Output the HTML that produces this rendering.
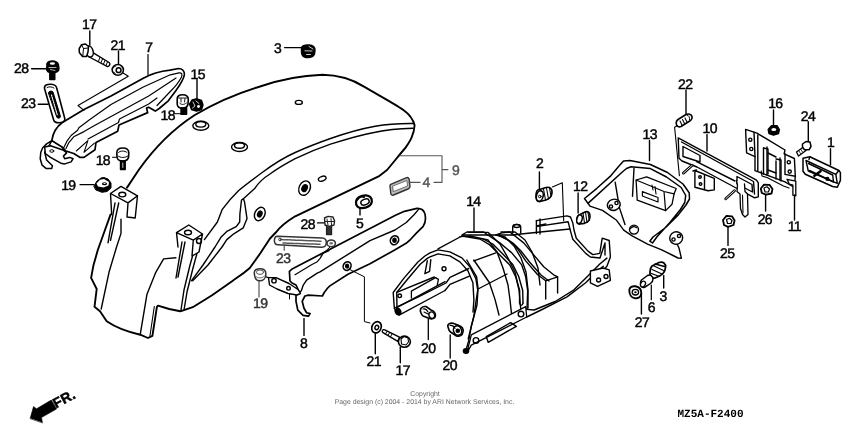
<!DOCTYPE html>
<html><head><meta charset="utf-8">
<style>
html,body{margin:0;padding:0;background:#fff;width:850px;height:426px;overflow:hidden}
svg{display:block;will-change:transform}
.l{font-family:"Liberation Sans",sans-serif;font-size:14px;font-weight:normal;fill:#000;stroke:#000;stroke-width:0.45px;letter-spacing:-0.6px}
.g{stroke:#333}
text{text-rendering:geometricPrecision}
.g{fill:#333}
.g2{fill:#555;stroke:#555}
</style></head><body>
<svg width="850" height="426" viewBox="0 0 850 426">
<g fill="none" stroke="#000" stroke-width="1.4" stroke-linejoin="round" stroke-linecap="round">
<!-- FENDER 9 -->
<!-- top outline -->
<path d="M127,187.6 L138.7,170 C150,154 170,131 194.8,115 C215,103 240,92.5 260,86.5 C280,79.5 300,75.5 322.4,74.7 C340,75 352,79 363.5,86.4 C380,96 395,104 403.4,110 C409,114 413,119 414.6,125.2 C414,135 410,141 405.7,147.5 C400,154 393,163 387,170 L378.6,176.4 L295.2,216.3 C286,222 280,227 276.3,232 L270,238.5 L260.3,253.3 L249.8,268 C243,274 238,277 232.8,280.7 L211.7,295.5 L192.7,307.2 L180.3,311.3 L169.2,309 L158,305.7 L156.9,306.8 L152.4,335.8 L148,338 L140.2,334.7 C128,332 115,327 106.7,321.3 L100,311.3 L94.5,306.8 L96.7,289 L91.1,277.9 L93.4,265.6 L97.8,250 L104.6,231 L110.5,214.6" stroke-width="1.9"/>
<!-- fold lines -->
<path d="M414,123.5 C400,123.3 385,124.5 375.2,126.3 C360,129 345,133.5 330.5,138.5 C315,144 305,148 295.2,152.5 C285,157 275,163 262.2,172.5 C252,180 244,186 238.7,190.5 C232,197 227,203 222.3,209.3 L217.4,222 L204.4,239.6"/>
<path d="M412.8,128.2 C400,128.5 385,130 375.2,132.2 C360,135 345,139.5 330.5,144.2 C315,149.5 305,154 295.2,158.6 C285,164 276,169.5 270,174 C262,179 257,185 255,188.2 L243.4,198.8"/>
<!-- S bend -->
<path d="M243.4,198.8 L241.5,200 L239.9,214 L239.7,222 L236.2,226.7 L226.8,231.4 L220.9,237.3 L215,247 L203,265 L191.6,280.7"/>
<path d="M243.4,198.8 L244.6,202.3 L247,218.7 L245.6,222 L243.2,227.9 L233.8,233.8 L226.8,239.6 L222,247 L208,265 L192.7,280.7"/>
<!-- inner vertical front edge -->
<path d="M196,244 L190,265 L184,290 L181,310"/>
<path d="M199,246 L193,268 L187,292 L184,310"/>
<path d="M175.9,257.8 L163.6,258.9 L155.8,272.3 L146.9,294.6 L140.2,334.7"/>
<path d="M121,219.3 L121,233.4 L116.4,247.5 L109,272.3 L101.2,309"/>
<!-- tab 1 -->
<path d="M110.5,193.5 L121,186.4 L137.5,195.8 L128,202.9 Z M110.5,193.5 L111.7,214.6 M128,202.9 L127,217 L135.2,218 L137.5,195.8" fill="#fff"/>
<ellipse cx="122.3" cy="194.6" rx="3.5" ry="2.3"/>
<path d="M115,203 L108,242.8 M118.7,203 L110.5,240.4"/>
<!-- tab 2 -->
<path d="M176.5,232.6 L188.8,225 L202.5,234 L193.3,240.2 Z M176.5,232.6 L178,247 M193.3,240.2 L192,256 L199,252 L202.5,234" fill="#fff"/>
<ellipse cx="188" cy="232.5" rx="3.5" ry="2.3"/>
<circle cx="199" cy="241" r="2.5"/>
<path d="M182,242 L176,278 M185,242 L178,277"/>
<!-- holes -->
<ellipse cx="200.8" cy="125.8" rx="8" ry="4.5"/>
<ellipse cx="200.8" cy="124.3" rx="5" ry="2.8"/>
<ellipse cx="239.5" cy="147" rx="8" ry="4.5"/>
<ellipse cx="239.5" cy="145.5" rx="5" ry="2.8"/>
<ellipse cx="298.8" cy="102.4" rx="3.5" ry="2"/>
<ellipse cx="304.6" cy="188.1" rx="5.5" ry="7.5" transform="rotate(25 304.6 188.1)"/>
<ellipse cx="304.6" cy="188.1" rx="2.5" ry="3.5" transform="rotate(25 304.6 188.1)" fill="#000"/>
<ellipse cx="322.2" cy="178.7" rx="4" ry="2.3" transform="rotate(-20 322.2 178.7)"/>
<ellipse cx="259.8" cy="214" rx="5" ry="7" transform="rotate(25 259.8 214)"/>
<ellipse cx="259.8" cy="214" rx="2" ry="3" transform="rotate(25 259.8 214)" fill="#000"/>

<!-- ITEM 7 -->
<path d="M51.8,140.6 C53,133 56,127 62.4,122.5 L84,109.4 L111,95.9 L143.3,78.3 C150,74.5 158,71.5 170,70.2 L178.6,68.5 C182,68.5 184.8,71 184.4,74.9 C183.5,79 180,85 176,90.4 L168.3,100.8 L159.2,108.5 L155.3,111.1 L148.6,107.2 L146.5,108 L147.7,112.6 L119,125 L117.7,131.2 L96,142.5 L95,149.7 L84,157.4 L80.2,157.4 L73.7,153.5 L66,151 L62.1,147.1 Z" fill="#fff" stroke-width="1.7"/>
<path d="M62.1,151 L64.7,145.8 L67.3,140.6 L71.1,135.5 L77.6,130.3 L78.9,127.7 L89.2,120 L111,104.5 L143.3,87 L170.3,74.8 L179,72.8 C182,72.6 182.5,74 181.5,77 C179,82 175,87 170.3,91.5 L157,105.5" stroke-width="1.2"/>
<path d="M66,148.4 L68.5,143.2 L73.7,136.8 L84,131.6 L95,125.2 L148.7,96 L176,78" stroke-width="1.2"/>
<path d="M88,139 L118.5,122.5 L119.5,119 L148.7,104 L157,98" stroke-width="1.2"/>
<path d="M76.3,151 L87.9,140.6 L84,152.3 L94.4,143.2" stroke-width="1.1"/>
<!-- hook at left end -->
<path d="M51.8,140.6 L46.6,143.9 L42.7,147.7 L40.8,152.3 L40.2,158.7 L42.1,165.2 L46,168.4 L51.8,168.4 L52.4,165.8 L46.6,160 L44.7,152.3 L47.3,149 Z" fill="#fff" stroke-width="1.5"/>
<path d="M44.7,147.1 L50.5,145.8 L62.1,149.7 L64.7,151 L66.6,152.9 L63.4,156.1 L64.7,158.7 L69.8,157.4 L73.1,158.7 L71.1,161.9 L64.7,163.9 L60.8,163.2 L50.5,157.4 L45.3,153.5 Z" fill="#fff" stroke-width="1.5"/>
<path d="M51.8,140.6 L62.1,147.1 L64.7,151" stroke-width="1.2"/>
<ellipse cx="51.8" cy="151" rx="2" ry="1.3" stroke-width="1"/>
<!-- bracket line from washer 21 -->
<path d="M121.9,72.3 L128.3,76.3 L78,105.5 L84,110.4" stroke-width="1.1"/>
<!-- BOLT 17 top -->
<path d="M92.9,52.7 L109.1,62.5 C110.5,63.5 110,66 107.5,66.6 L88.3,56.5" fill="#fff"/>
<path d="M100,57.5 L98.5,61 M102.5,59 L101,62.5 M105,60.5 L103.5,64 M107.5,62 L106,65.5" stroke-width="1"/>
<ellipse cx="89.5" cy="51.5" rx="3.6" ry="5.6" transform="rotate(-15 89.5 51.5)" fill="#fff" stroke-width="1.5"/>
<path d="M79.2,48.5 L81.5,44.8 L85.5,44 L88.5,46.5 L88,52 L86.5,56.5 L82.5,56.5 L79.3,52.5 Z" fill="#fff" stroke-width="1.5"/>
<path d="M81.5,44.8 L83.5,48.5 L88.3,48 M83.5,48.5 L82.8,56.3" stroke-width="1"/>
<line x1="89.8" y1="31" x2="89.8" y2="45"/>
<!-- WASHER 21 top -->
<ellipse cx="117.8" cy="69.9" rx="5.6" ry="5.4" fill="#fff" stroke-width="1.6"/>
<ellipse cx="118.6" cy="70.2" rx="2.4" ry="2.4" fill="#fff" stroke-width="1.5"/>
<path d="M114,67 L116,66 M114,72 L115.5,74" stroke-width="0.8"/>
<line x1="118.5" y1="51" x2="118.5" y2="64"/>
<!-- BOLT 28 top -->
<path d="M47,66 C46,63 48,61 52,61 C56,61 58,62.5 58.5,65 L59,68.5 C59,71 56.5,73 52.5,73 C48.5,73 46,71 46.5,68.5 Z" fill="#000" stroke="#000"/>
<ellipse cx="52.4" cy="63.5" rx="2.6" ry="1.3" fill="#fff" stroke="none"/>
<path d="M49,67.5 L56,67.5 M50.5,69.5 L55,70.5" stroke="#fff" stroke-width="0.7"/>
<path d="M49.8,72.5 L49.8,79.5 L54.8,79.5 L54.8,72.5 Z" fill="#000"/>
<line x1="31.6" y1="68.7" x2="45.5" y2="68.7"/>
<!-- PART 23 left -->
<path d="M44.5,88.5 C44,85 47.5,84 51,84.3 C54.5,84.6 56.5,85.8 56.8,88.5 L64.8,118.5 C65.5,121.5 62,122.8 59,122.8 C56,122.8 54,121.8 53.5,119.5 Z" fill="#fff" stroke-width="1.6"/>
<path d="M48.5,92.5 C49,91 52,90.5 53,92 L60.5,116.5 C60.5,118 58,119 57,117.5 Z" fill="#000" stroke-width="1"/>
<path d="M51.5,95 L57.5,115.5" stroke="#fff" stroke-width="1.1" stroke-dasharray="1.3 1.1"/>
<path d="M47,87.5 C48,86.5 52,86.5 54,88" stroke-width="1"/>
<line x1="38.2" y1="104.3" x2="48" y2="104.3"/>
<!-- BOLT 18 upper -->
<path d="M177.2,99 C177,96 179.5,94.8 182.5,94.8 C186,94.8 188.3,96.5 188.3,99.5 L188,104 C187.5,107 185.5,108.2 182.5,108.2 C179.5,108.2 177.3,106.5 177.2,104 Z" fill="#fff" stroke-width="1.6"/>
<path d="M178.5,98 L187,98 M179.5,103 C181,105 184,105 186.5,103 M181,98.5 L181,102 M185,98.5 L184.5,102" stroke-width="0.9"/>
<path d="M181,108 L181,114.3 L186.6,114.3 L186.6,108 Z" fill="#000"/>
<line x1="174.5" y1="113.7" x2="181" y2="113.7" stroke-width="1"/>
<!-- NUT 15 -->
<path d="M189.5,104 L192,100 L197,98.8 L201.5,100.5 L203,105 L201.5,109.5 L196.5,111.2 L191.5,109.5 Z" fill="#000"/>
<path d="M193,102 L195,106 L192.5,108 M196,101 L199,103.5" stroke="#fff" stroke-width="0.8"/>
<circle cx="198.5" cy="106.5" r="1.4" fill="#fff" stroke="none"/>
<line x1="197" y1="79.6" x2="197" y2="98.5"/>
<!-- BOLT 18 lower -->
<path d="M116.8,153 C116.8,149.5 119.5,148 122.8,148 C126.3,148 128.8,149.8 128.8,153 L128.6,157 C128.1,159.8 125.8,161 122.8,161 C119.8,161 117.3,159.8 117,157 Z" fill="#fff" stroke-width="1.6"/>
<path d="M118.5,152.5 C120,150.5 125,150.5 127,152.5 M118,156 C120.5,158 125,158 127.8,156" stroke-width="1"/>
<path d="M120.5,161 L120.5,169.6 L125.2,169.6 L125.2,161 Z" fill="#000"/>
<path d="M122.8,163 L122.8,167.5" stroke="#fff" stroke-width="0.8"/>
<line x1="112.5" y1="157.3" x2="116.5" y2="157.3" stroke-width="1"/>
<!-- GROMMET 19 left -->
<path d="M94,186 L97,181 L101,178 L104,177.5 L108,179 L111,183 L111,188 L107,191.5 L102,192.3 L96,190 Z" fill="#000" stroke-width="1"/>
<path d="M96.5,183.5 L100,179.8 L104,179 L109,182 L108.5,185.5 L103.5,187.5 L98,186.5 Z" fill="#fff" stroke="none"/>
<ellipse cx="104.5" cy="183.7" rx="2.6" ry="1.5" fill="#000" stroke="none"/>
<ellipse cx="104.5" cy="183.5" rx="1.2" ry="0.6" fill="#fff" stroke="none"/>
<line x1="80" y1="184.7" x2="94" y2="184.7" stroke-width="1.2"/>
<!-- GROMMET 3 top -->
<path d="M301.5,49 C301,45.5 305,44.8 309,45 C313,45.3 315.3,47 315,50.5 L314.5,54 C313.5,57 310,57.8 306,57.5 C302.5,57 301.5,55 301.5,52 Z" fill="#000"/>
<path d="M305,50.8 L312,51 M306.5,54.5 L310.5,54.5 M309,46.5 L313,49" stroke="#fff" stroke-width="0.8"/>
<line x1="284.6" y1="47.6" x2="301" y2="47.6"/>
<!-- leader 7 -->
<line x1="148" y1="54.5" x2="148" y2="75" stroke-width="1.2"/>
<!-- 9 bracket (gray) -->
<path d="M400,155.7 L442,155.7 L442,182.4 L434,182.4 M442,169.6 L448,169.6" stroke="#555" stroke-width="1.1"/>
<!-- PART 4 -->
<path d="M390.7,184.3 L406,177.8 C408,177 409,178 409.3,180 L410,186.5 C410,188 409,188.5 408,189 L393.5,195 C392,195.5 391,195 390.8,193.5 L390,186 C390,185 390.2,184.5 390.7,184.3 Z" fill="#bbb" stroke="#333"/>
<path d="M393,186 L407,180.5 L407.5,186 L393.5,191.5 Z" fill="#fff" stroke="#555" stroke-width="0.8"/>
<line x1="409" y1="182.4" x2="420" y2="182.4" stroke="#555" stroke-width="1.1"/>
<!-- PART 5 grommet -->
<path d="M356,202 C356.5,197.5 361,195.2 366,195.3 C370,195.5 372,198 371.8,201.5 C371.5,205.5 367,208 362,208.2 C358,208.2 355.7,206 356,202 Z" fill="#fff" stroke-width="2.2"/>
<ellipse cx="365" cy="202" rx="4.3" ry="2.8" transform="rotate(-20 365 202)" fill="#fff" stroke-width="1.5"/>
<path d="M357,200 C359,197 362,196 364,197" stroke-width="2"/>
<line x1="360" y1="208.5" x2="360" y2="215"/>
<!-- ITEM 8 rail -->
<path d="M425,214.1 C424,210 421,208.2 417,208.3 L404.4,211.3 L395,215.5 L370,228.5 L292.6,268.7 L289.4,271.4 L290,281 L292,283 L296,285 L299.6,292.5 L296,295.1 L296,301.3 L297.8,310.1 L303.1,315.3 L308.4,316.2 L310.1,313.6 L306.6,312.7 L304,308.3 L302.2,301.3 L304.9,296 L308.4,295.1 L322.4,296 L324.2,292.5 L327.7,288 L329.9,285.9 L348,274.3 L370,263.7 L393.4,250.7 L406.1,243.3 L410,240 L416.6,232.9 L423.2,226.3 C425.5,223 425.8,218 425,214.1 Z" fill="#fff" stroke-width="1.7"/>
<path d="M329,250.6 L323.2,253.2 L320.3,258.2 L317.3,261.7 L311.5,264.7 L295,274.7" stroke-width="1.2"/>
<path d="M330.5,246.5 L320.5,256" stroke-width="1"/>
<path d="M419,208.9 L413.8,215 L406.3,222.5 L395,230 L370,240.6 L320,271.9 L317.2,273.1 L306.6,280.2 L303.1,285.4 L301.3,290.7 L299.6,292.5"/>
<path d="M268.5,277.6 L276,277.6 L289,283.5 L298,289.5 L300.5,293.5 L297,295 L288,293.5 L277,289 L269.5,285 Z" fill="#fff"/>
<circle cx="274" cy="280.7" r="2.2"/>
<circle cx="288.5" cy="288.3" r="1.8"/>
<path d="M260,275 L268.5,277.6" stroke-width="1.1"/>
<path d="M289.5,294 L289.5,299" stroke-width="1"/>
<ellipse cx="394.5" cy="240.2" rx="4" ry="4.6" transform="rotate(30 394.5 240.2)" fill="#fff" stroke-width="1.6"/>
<ellipse cx="394.5" cy="240.2" rx="1.6" ry="2" fill="#000"/>
<ellipse cx="347.1" cy="266.1" rx="3.8" ry="4.4" transform="rotate(30 347.1 266.1)" fill="#fff" stroke-width="1.6"/>
<ellipse cx="347.1" cy="266.1" rx="1.5" ry="1.9" fill="#000"/>
<path d="M349.6,269.4 L364.4,276.8 L364.4,321.6 L370,323" stroke-width="1"/>
<line x1="304" y1="318.6" x2="304" y2="335.4"/>
<!-- BOLT 28 mid -->
<path d="M324.5,218 L328,216.4 L333,217 L334.6,221 L334,225 L329,226.5 L325,225 Z" fill="#fff" stroke="#222"/>
<path d="M325,221.5 L334,221.5 M327,219 L328,225 M331,218.5 L331.5,225" stroke="#222" stroke-width="1"/>
<path d="M326.6,226.4 L326.6,234.5 L331.5,234.5 L331.5,226.4" fill="#333" stroke="#222"/>
<line x1="317.6" y1="222.9" x2="324" y2="222.9"/>
<!-- PART 23 mid (gray) -->
<path d="M277.5,236.3 L322,238 C325.5,238.2 326.5,240 326.3,243 C326,246 324.5,247.4 321.5,247.2 L278,244.8 C275,244.6 274.2,243 274.4,240 C274.6,237.5 275.5,236.3 277.5,236.3 Z" fill="#fff" stroke="#333" stroke-width="1.5"/>
<path d="M281,239.5 L321,241.2 M283,243 L320,244.3" stroke="#555" stroke-width="1.5" stroke-dasharray="3 1"/>
<circle cx="280" cy="239.5" r="1.3" stroke="#333" stroke-width="1"/>
<ellipse cx="331.2" cy="243.3" rx="4.2" ry="3.4" fill="#fff" stroke="#333" stroke-width="1.5"/>
<ellipse cx="331.2" cy="243.3" rx="1.8" ry="1.4" fill="#777" stroke="none"/>
<line x1="284.2" y1="245.4" x2="284.2" y2="250.3" stroke="#444" stroke-width="1.1"/>
<!-- GROMMET 19 mid (gray) -->
<path d="M254.3,273 C254,269.5 257.5,268.6 261,268.8 C264.5,269 266,271 265.9,274.5 C265.8,278.5 263,280.8 259.5,280.8 C256,280.8 254.5,277.5 254.3,273 Z" fill="#fff" stroke="#333" stroke-width="1.5"/>
<ellipse cx="260" cy="272.2" rx="3.6" ry="2.2" fill="#fff" stroke="#555" stroke-width="1"/>
<path d="M256,276.5 C258,278.5 262,278.5 264.5,276" stroke="#666" stroke-width="1"/>
<line x1="259" y1="281" x2="259" y2="297" stroke="#444" stroke-width="1.1"/>
<!-- WASHER 21 bottom -->
<ellipse cx="376.5" cy="327.3" rx="4.6" ry="5.8" transform="rotate(25 376.5 327.3)" fill="#fff" stroke-width="1.7"/>
<ellipse cx="376.8" cy="327.5" rx="1.8" ry="2.2" transform="rotate(25 376.8 327.5)" fill="#fff" stroke-width="1.4"/>
<line x1="375.3" y1="333.5" x2="375.3" y2="353.7"/>
<!-- BOLT 17 bottom -->
<path d="M384.7,329.8 L399.5,337.2 L397.8,341.3 L383,332.7 C381.5,331.5 382.5,329 384.7,329.8 Z" fill="#fff" stroke-width="1.4"/>
<path d="M387,331.5 L385.5,334 M389.5,332.8 L388,335.5 M392,334 L390.5,336.8" stroke-width="1"/>
<ellipse cx="404.4" cy="341.7" rx="6" ry="5.6" fill="#fff" stroke-width="1.6"/>
<path d="M401,339 L404,336.5 L408,338 L408.5,342 L406,345 L401.5,344 Z" stroke-width="1.1"/>
<line x1="400.3" y1="347.2" x2="400.3" y2="362.8"/>
<!-- ITEM 14 -->
<path d="M394.4,309 L393.2,292.5 L403.8,278.4 L417.9,262 L424.9,256 L430,252.9 L438,249.9 L449.9,251.9 L461.9,257.9 L469.9,266.8 L475.9,278.8 L477.9,290.8 L477,305 L471.3,326.3 L468.5,341.4 L466,350"/>
<path d="M397,309 L396.7,292.5 L407.3,279.5 L420.2,264.3 L427.3,258.4 L430,256.9 L438,253.9 L449.9,255.9 L459.9,261.9 L467.9,270.8 L472.9,282.8 L473.9,300 L473,312"/>
<path d="M461.9,235 L466.9,232 L483.8,232 L487.8,235 Z" fill="#fff"/>
<path d="M461.9,236 L479.9,239 L489.8,244.9 L499.8,254.9 L509.8,264.9 L515.7,276.8 L519.7,290.8 L519.5,303 C520,306 522.5,306 523,303"/>
<path d="M483,239 L492.8,244 L502.8,254 L512.8,264.5 L518.7,276.5 L522.7,290.5 L523,303"/>
<path d="M487.8,235 L499.8,242.9 L511.8,252.9 L521.7,264.9 L525.7,276.8 L527.7,290.8 L527,309"/>
<path d="M438,248.9 L461.9,236"/>
<path d="M473.9,260.9 L495.8,252.9"/>
<path d="M478,289 L507,274"/>
<path d="M495.8,235 L501.8,232.9 L509.8,232 L513.7,235 Z" fill="#fff"/>
<path d="M497.8,235 L509.8,240.9 L517.7,248.9 L525.7,260.9 L537.7,274.8 L545.7,280.8 L545.7,299"/>
<path d="M501,236 L513,243 L521,251 L529.5,262 L541,275 L549,281"/>
<path d="M513.7,235 L523.7,242.9 L533.7,254.9 L543.7,266.8 L553.6,274.8 L557.6,276.8 L557.6,293"/>
<path d="M545.7,280.8 L557.6,276.8"/>
<path d="M487.8,235 L495.8,235 M513.7,235 L521,234 L550,231 L570,229"/>
<path d="M395.6,307.7 L417.9,297.2 L446,283 L450,277.3 L468.8,268.5 M445,290.5 L450,284.4 L469.4,276.1"/>
<path d="M427.3,260.8 L424.9,273.7 L429.6,271.3 L430.8,259.6"/>
<circle cx="444" cy="268.8" r="2"/>
<path d="M512.7,233 L512.7,227 C512.7,223.5 520.7,223.5 520.7,227 L520.7,233" fill="#fff"/>
<ellipse cx="516.7" cy="226" rx="3" ry="1.5"/>
<!-- bands -->

<!-- bands -->
<path d="M468.5,232.4 L488.2,232.4 L500,244 L508,258 L515,272 L519,290 L521,312"/>
<path d="M460,236.6 L470,236 L488,240 L497,252 L503,268 L508,285 L510,300 L512,318"/>
<path d="M496.6,235.2 L505,237 L514,246 L521,258 L526,272 L528,290 L528,308"/>
<path d="M501,232 L515,232 L525,240 L532,252 L538,268 L540,285"/>
<path d="M473.8,260 L489.3,282.5 L495,299.4 L499,315"/>
<path d="M466.8,260 L476.6,276.9 L478,288.2 L473.8,316.3 L468.2,338.9"/>
<!-- bottom plate -->
<path d="M471.3,334.8 L525.7,306.6 L526.7,317 L471.3,345.1 L466.8,353 Z" fill="#fff" stroke-width="1.3"/>
<path d="M486.3,336.7 L510.7,322.6 L516.3,326.3 L488.2,342.3 Z"/>
<circle cx="476" cy="340.4" r="2.8"/>
<circle cx="521" cy="314.1" r="2.8"/>
<ellipse cx="466" cy="351" rx="2.6" ry="2.2" fill="#000"/>
<!-- right box & rail -->
<path d="M526.7,309.4 L534.1,310 L555.2,301.5 L574,289.8 L590.4,273.4 L599.8,264 L606.9,258.1"/>
<path d="M526.7,317 L541.1,310 L567,296.9 L585.7,282.8 L597.5,271 L603.3,266.3"/>
<path d="M536.4,220.6 L536.4,233.5 M540,219 L540,234 M536.4,226 L545.8,224"/>
<!-- small top knob -->

<!-- BRACKET 12 frame -->
<path d="M536.4,220.6 L567,215.9 L570.5,217 L572.8,222.9 L574,230 L576.3,238.2 L588,251.1 L592.8,254.6 L599.8,253.4 L602.2,238.2 L609.2,240.5 L610.4,257 L606.9,266.3 L603.3,269.9" stroke-width="1.4"/>
<path d="M537.6,226.4 L568.1,221.7 L570.5,231.1 L572.8,239.3 L585.7,253.4 L590.4,257 L600,258 L605,243 L605,255"/>
<path d="M590.4,271 L603,268 L609.2,269.9 L610.4,280.4 L597.5,286.3 L590.4,282.8 Z" fill="#fff"/>
<circle cx="598.6" cy="280" r="2"/>
<circle cx="606" cy="276.5" r="2"/>
<!-- GROMMET 2 -->
<path d="M538,190 L546,187.5 C550,186.5 552.5,189 552,193 C551.5,197 549,199 546,200 L540,201.5 C537,202 535.8,199 536,195.5 C536.2,192.5 536.8,190.5 538,190 Z" fill="#fff" stroke-width="1.7"/>
<ellipse cx="539.8" cy="196" rx="3.3" ry="5.3" transform="rotate(15 539.8 196)" fill="#fff" stroke-width="1.6"/>
<path d="M543.5,189 L545.5,200 M546.5,188 L548.5,199 M549.5,188 L551,196" stroke-width="1.1"/>
<circle cx="539.8" cy="196.5" r="1.3" stroke-width="1"/>
<line x1="539.4" y1="172" x2="539.4" y2="189"/>
<path d="M552.4,186.9 L562.3,182.7 L563.7,220.7" stroke-width="1.1"/>
<!-- PART 12 -->
<path d="M579,215 L585,212 C588.5,210.8 590.5,213.5 590,217 C589.5,220.5 587.5,222.5 584.5,223.3 L580,224 C577.5,224.3 576.5,222 576.8,219 C577,217 577.8,215.5 579,215 Z" fill="#fff" stroke-width="1.7"/>
<ellipse cx="579.5" cy="219.2" rx="2.6" ry="4.4" transform="rotate(15 579.5 219.2)" fill="#fff" stroke-width="1.5"/>
<path d="M583,213 L584.5,223 M585.5,212 L587,222.5 M588,212.5 L589.3,220.5" stroke-width="1.1"/>
<line x1="578.1" y1="193" x2="578.1" y2="213"/>
<!-- ITEM 13 -->
<path d="M585.6,199.2 L589.9,206.2 L602.5,210.4 L616.6,220.3 L623.7,230.1 L632.1,235.8 L647.6,244.2 L661.7,249.9 L673,255.5 L678,258 L681.4,258.3 L679,248 L677.2,244.2" fill="#fff"/>
<path d="M584.5,198.5 L596.9,188.3 L611,175.6 L619,166 L623.5,161 L630,160.5 L650.4,164.5 L667.5,172.5 L683,184 L689.2,192.7 L689.5,199 L686,205 L678.3,214.9 L665.6,227.5 L653,237 L649.8,241.2 L652.5,243 L657.2,236.5 L669.9,222.5 L680.4,209.5 L684.8,202.5 L685.7,195.5 L681.2,187.5 L666.5,177 L650.4,168.6 L631,166.8 L626.5,168.5 L622.3,172 L588,203.4 Z" fill="#fff" stroke-width="1.5"/>
<path d="M615.2,182.3 L619.4,207.6 L625,224.5 M634,168.2 L632.5,196.3"/>
<path d="M636.1,180 L646.6,176.9 L676.2,188.5 L674.1,193.8 L672,204.3 L665.6,210.6 L637.2,200.1 Z" fill="#fff" stroke-width="1.3"/>
<path d="M636.1,180 L664,191.5 L674.1,193.8 M664,191.5 L665.6,210.6" stroke-width="1.2"/>
<path d="M642.4,191.6 L658,197.5 L658,202 L642.4,196 Z" fill="#fff" stroke-width="1.2"/>
<path d="M652,185 L653,190 M655,186.5 L656,194" stroke-width="1.1"/>
<ellipse cx="613.8" cy="204.8" rx="6.5" ry="5.5" transform="rotate(-20 613.8 204.8)" fill="#fff"/>
<circle cx="611" cy="206.5" r="1.6"/><circle cx="616.5" cy="203" r="1.6"/>
<ellipse cx="676.2" cy="238" rx="6.5" ry="6.2" transform="rotate(-20 676.2 238)" fill="#fff"/>
<circle cx="673.5" cy="239.5" r="1.6"/><circle cx="679" cy="236" r="1.6"/>
<circle cx="634" cy="229.6" r="4.5" fill="#fff"/>
<path d="M630.5,228.5 C631.5,226.5 634.5,226 636.5,227.5"/>
<line x1="649.5" y1="140.5" x2="649.5" y2="160.5"/>
<!-- BOLT 22 + leader -->
<path d="M678,119.5 L686,114.5 C688,113.5 691.5,114 692,116.5 C692.5,119 691,120.5 689,121.5 L681,126.5 C679,127.5 676.5,126.5 676.3,124 C676,122 676.5,120.5 678,119.5 Z" fill="#fff" stroke-width="1.6"/>
<path d="M680,121 L682,125 M682.5,119.5 L684.5,123.5 M685,118 L687,122" stroke-width="1.1"/>
<path d="M687,115 C689,115.5 690,117.5 689.5,120" stroke-width="1"/>
<line x1="686" y1="90" x2="686" y2="114"/>
<path d="M677.5,125.5 L674.6,127.2 L679.4,175.7" stroke-width="1.1"/>
<!-- ITEM 10 plate -->
<path d="M678.2,137.9 L756.5,180.2 L758.3,182.8 L758.3,196.9 L754.7,197.8 L738,189 L697,167 L682,161 L679,158.2 Z" fill="#fff" stroke-width="1.4"/>
<path d="M681.5,142 L753.5,181.5 L754.5,194"/>
<path d="M683,146.5 L700,155.5 L700,162 L683,156.5 Z"/>
<path d="M737,176.5 L752,184.5 L752.5,192 L737,184 Z"/>
<path d="M696.6,161.7 L735,181"/>
<path d="M694.9,170.5 L714.3,178.4 L714.3,189.9 L708.1,190.7 L694.9,187.2 Z" fill="#fff"/>
<path d="M704.5,175 L704.5,189.5 M696.5,170 L693,171"/>
<circle cx="700" cy="177" r="1.3"/><circle cx="700.5" cy="184" r="1.3"/>
<path d="M683.4,173.1 L692.2,165.2" stroke-width="2.8"/>
<path d="M683.4,173.1 L692.2,165.2" stroke="#fff" stroke-width="0.9"/>
<path d="M725.7,198.7 L734.5,190.7" stroke-width="2.8"/>
<path d="M725.7,198.7 L734.5,190.7" stroke="#fff" stroke-width="0.9"/>
<path d="M736.5,180.5 L737.5,185 L737,191.5 L740,194 L740.5,208.5 L742.5,214.5 L745,217 L748,214.5 L747.5,194 L745,191.5 L744.5,184" fill="#fff" stroke-width="1.3"/>
<path d="M742.5,195 L743,213" stroke-width="1.1"/>
<line x1="707" y1="134.6" x2="707" y2="151"/>
<!-- ITEM 11 -->
<path d="M745.6,129.4 L754,132.2 L756.9,133.1 L785,150 L784.1,153.8 L794.4,158.5 L795.3,176.3 L794.4,187.5 L785,181.9 L755,170.7 L755,156.6 L746.6,152.8 Z" fill="#fff" stroke-width="1.4"/>
<path d="M754,132.2 L755,156.6 M785,153.8 L785,174.4 L795.3,176.3"/>
<path d="M757.8,135 L757.8,171 M763.5,148 L763.5,174 M767,147 L767,175 M780,158 L780,180 M776,161 L776,179"/>
<path d="M763.5,148 L768,149 L768,174 M776,159 L781,160 L781,181"/>
<path d="M768,153 L776,157 M768,170 L776,173"/>
<circle cx="750.3" cy="139.7" r="1.6"/><circle cx="751.3" cy="149" r="1.6"/>
<circle cx="788.8" cy="162.2" r="1.6"/><circle cx="789.7" cy="171.6" r="1.6"/>
<path d="M787,179.3 L795.8,181.1 L795.8,195.8 L792.9,195.2 L792.9,185.2 L789.3,184 Z" fill="#fff" stroke-width="1.3"/>
<path d="M761.2,171.1 L762,176 L767,177.5 L783.5,186 L789,188" stroke-width="1.2"/>
<line x1="794.5" y1="195" x2="794.5" y2="220"/>
<!-- NUT 16 -->
<path d="M768.2,129.5 L771.5,125.6 L777,125.6 L779.4,129.5 L778.5,133.5 L773.5,135.2 L769,133.5 Z" fill="#000"/>
<ellipse cx="773.8" cy="129.5" rx="2.5" ry="1.6" fill="#fff" stroke="none"/>
<line x1="773.5" y1="110" x2="773.5" y2="125"/>
<!-- BOLT 24 -->
<path d="M796.5,152 L803.5,147 L806,150.5 L798.5,156 Z" fill="#fff" stroke-width="1.3"/>
<path d="M799,151 L800.5,153.5 M801,149.5 L802.5,152" stroke-width="0.8"/>
<path d="M802.5,144 L806,141.5 L810,142 L811,146.5 L809,149.8 L804.5,149.8 L802.5,147 Z" fill="#fff" stroke-width="1.5"/>
<line x1="808.3" y1="121.6" x2="808.3" y2="141.5"/>
<!-- PART 1 lens -->
<path d="M803,158.2 L809.8,156.7 L838.9,170.5 L840.4,172.7 L840.4,180.4 L837.3,187.3 L832.7,186.5 L805.3,174.3 L803,171.2 Z" fill="#fff" stroke-width="1.5"/>
<path d="M806,160.5 L835.8,174.3 L837.3,183.4 L808.3,171.2 Z"/>
<path d="M808.5,163.5 L832.7,175 L833.5,182 L809.5,170.5"/>
<path d="M809.8,156.7 L809,159.5 M835.8,174.3 L838.9,170.5"/>
<path d="M814.4,175.8 L820.5,171.2" stroke-width="2.6"/>
<circle cx="827.4" cy="178.9" r="1.4"/>
<line x1="830.5" y1="148.8" x2="830.5" y2="165"/>
<!-- NUT 26 -->
<path d="M760.8,188.5 L764,184.7 L769.5,184.9 L772.5,189 L771.5,193.5 L766,194.7 L761.8,193 Z" fill="#fff" stroke-width="1.8"/>
<path d="M764,188 L767,186.8 L769.5,189 L768.5,191.8 L765,192 Z" stroke-width="1.2"/>
<line x1="765.6" y1="195" x2="765.6" y2="211"/>
<!-- NUT 25 -->
<path d="M723,220 L726.5,215.9 L732,216.3 L734.6,220.5 L733.5,225 L728,226.9 L724,225 Z" fill="#fff" stroke-width="1.8"/>
<path d="M726.5,219.5 L729.5,218.3 L732,220.5 L731,223.5 L727.5,223.5 Z" stroke-width="1.2"/>
<line x1="728" y1="227" x2="728" y2="245.4"/>
<!-- GROMMET 3 right -->
<path d="M652,266 L659,262.5 C663,261 666,263.5 665.5,267.5 C665,271.5 663,274.5 659.5,276 L655,278 C651.5,279 649.5,276 650,272 C650.3,269 651,267 652,266 Z" fill="#fff" stroke-width="1.8"/>
<path d="M653,265.5 L663.5,270.5 M652,269.5 L662,274 M651.5,273.5 L659.5,276.5 M655,264 L664.5,266.5" stroke-width="1.3"/>
<line x1="663.7" y1="275.5" x2="663.7" y2="288"/>
<!-- PART 6 -->
<path d="M641.5,280 L647.5,275.5 C650,274 653,276 653,279 C653,281 652,282.5 650.5,283.5 L645,287 C642.5,288.3 640.5,286.5 640.5,283.5 C640.5,282 641,280.8 641.5,280 Z" fill="#fff" stroke-width="1.5"/>
<ellipse cx="643" cy="284" rx="2.2" ry="3" transform="rotate(35 643 284)" fill="#fff" stroke-width="1.3"/>
<line x1="651.3" y1="285" x2="651.3" y2="299.7" stroke-width="1.2"/>
<!-- NUT 27 -->
<path d="M629.3,290 C629.5,287 632.5,285.8 635.5,286.3 C639,287 641.5,289.5 641.3,293.5 C641,297 638.5,298.6 635,298.3 C631.5,298 629.2,294.5 629.3,290 Z" fill="#fff" stroke-width="1.9"/>
<ellipse cx="635.4" cy="292.2" rx="3.2" ry="2.8" fill="#fff" stroke-width="1.3"/>
<ellipse cx="635.4" cy="292.2" rx="1.2" ry="1" fill="#000" stroke="none"/>
<line x1="641.4" y1="294" x2="641.4" y2="314"/>
<!-- PART 20 a -->
<path d="M421,313 C419,309 422,306 426,306.5 L431,310 C434,311 436,313.5 435.4,316 C434.8,318.5 432,319.5 429.5,318.5 L423,316 C422,315.2 421.5,314 421,313 Z" fill="#fff" stroke-width="1.6"/>
<ellipse cx="431.8" cy="315.2" rx="2.8" ry="3.3" transform="rotate(-25 431.8 315.2)" fill="#fff" stroke-width="1.4"/>
<path d="M423,309 C425,308.5 427,310 428,312 M424,312 L428,314" stroke-width="1.1"/>
<line x1="428.3" y1="319" x2="428.3" y2="339.6" stroke-width="1.3"/>
<!-- PART 20 b -->
<path d="M448,327 C447,324 450,322.8 453,323.2 L459,325.5 C462,326.5 463.5,329 463,332 C462.5,335.5 459.5,336.8 456.5,336 L450.5,332 C449,331 448.5,329 448,327 Z" fill="#fff" stroke-width="1.6"/>
<ellipse cx="457.5" cy="330.5" rx="4" ry="4.8" transform="rotate(-20 457.5 330.5)" fill="#fff" stroke-width="1.5"/>
<circle cx="457.8" cy="330.8" r="1.6" fill="#000"/>
<path d="M450,325.5 C452,325 454,326.5 455,328.5" stroke-width="1.1"/>
<line x1="450.2" y1="335" x2="450.2" y2="358" stroke-width="1.3"/>
<!-- FR arrow -->
<path d="M30.2,418.3 L33.5,406.6 L36.5,408.8 L51.3,400 L56.5,409 L41.5,417.5 L42.4,422.6 Z" fill="#000" stroke="#000" stroke-width="0.6"/>
<!-- leader 14 -->
<line x1="474" y1="208" x2="474" y2="231"/>
<!-- fender extra -->
<path d="M149.8,337 L154.3,306.5" stroke-width="1.1"/>
<!-- item14 extras -->
<path d="M396.7,307.6 L445,281.7 M399.1,315.2 L445,290.5"/>
<path d="M396.7,292.3 L434.3,277"/>
<path d="M411.4,298 L411.4,291.1 L435.5,277.6 L438.4,279.4 L437.2,285.3" stroke-width="1.3"/>
<ellipse cx="398" cy="311.5" rx="2.6" ry="3.2" transform="rotate(-30 398 311.5)" fill="#000"/>
<circle cx="399.7" cy="295.8" r="1.8"/>
</g>
<g class="l">
<text x="82" y="29">17</text>
<text x="110.5" y="49.5">21</text>
<text x="145.3" y="51.8">7</text>
<text x="14" y="72.6">28</text>
<text x="21" y="108">23</text>
<text x="190.5" y="78.5">15</text>
<text x="160.5" y="119.7">18</text>
<text x="95.7" y="165">18</text>
<text x="61.2" y="190.4">19</text>
<text x="274" y="53">3</text>
<text x="452" y="174.5" class="g2">9</text>
<text x="422.5" y="186.5" class="g2">4</text>
<text x="356" y="227.5">5</text>
<text x="300.5" y="229">28</text>
<text x="276" y="262.6" class="g">23</text>
<text x="253" y="308" class="g">19</text>
<text x="300" y="347.6">8</text>
<text x="366.5" y="366">21</text>
<text x="395.5" y="375">17</text>
<text x="421" y="352.7">20</text>
<text x="442.5" y="370">20</text>
<text x="466.2" y="205.8">14</text>
<text x="536" y="168.4">2</text>
<text x="573" y="191">12</text>
<text x="642.6" y="138.8">13</text>
<text x="678" y="89">22</text>
<text x="702.5" y="132.5">10</text>
<text x="768.2" y="108">16</text>
<text x="800.8" y="120.5">24</text>
<text x="827" y="146.5">1</text>
<text x="757.7" y="224.3">26</text>
<text x="787.7" y="231.4">11</text>
<text x="720" y="258">25</text>
<text x="659.4" y="301">3</text>
<text x="647.7" y="312">6</text>
<text x="634.8" y="326.8">27</text>
<text x="56" y="408.5" transform="rotate(-28 56 408.5)" style="font-size:14px;font-weight:bold;stroke-width:0.5px;letter-spacing:0.3px">FR.</text>
</g>
<text x="425" y="396" text-anchor="middle" style="font-family:'Liberation Sans',sans-serif;font-size:6.9px;fill:#666">Copyright</text>
<text x="424.5" y="403.5" text-anchor="middle" style="font-family:'Liberation Sans',sans-serif;font-size:6.9px;fill:#666">Page design (c) 2004 - 2014 by ARI Network Services, Inc.</text>
<text x="677.5" y="417" style="font-family:'Liberation Mono',monospace;font-size:11px;font-weight:bold;fill:#000">MZ5A-F2400</text>
</svg>
</body></html>
